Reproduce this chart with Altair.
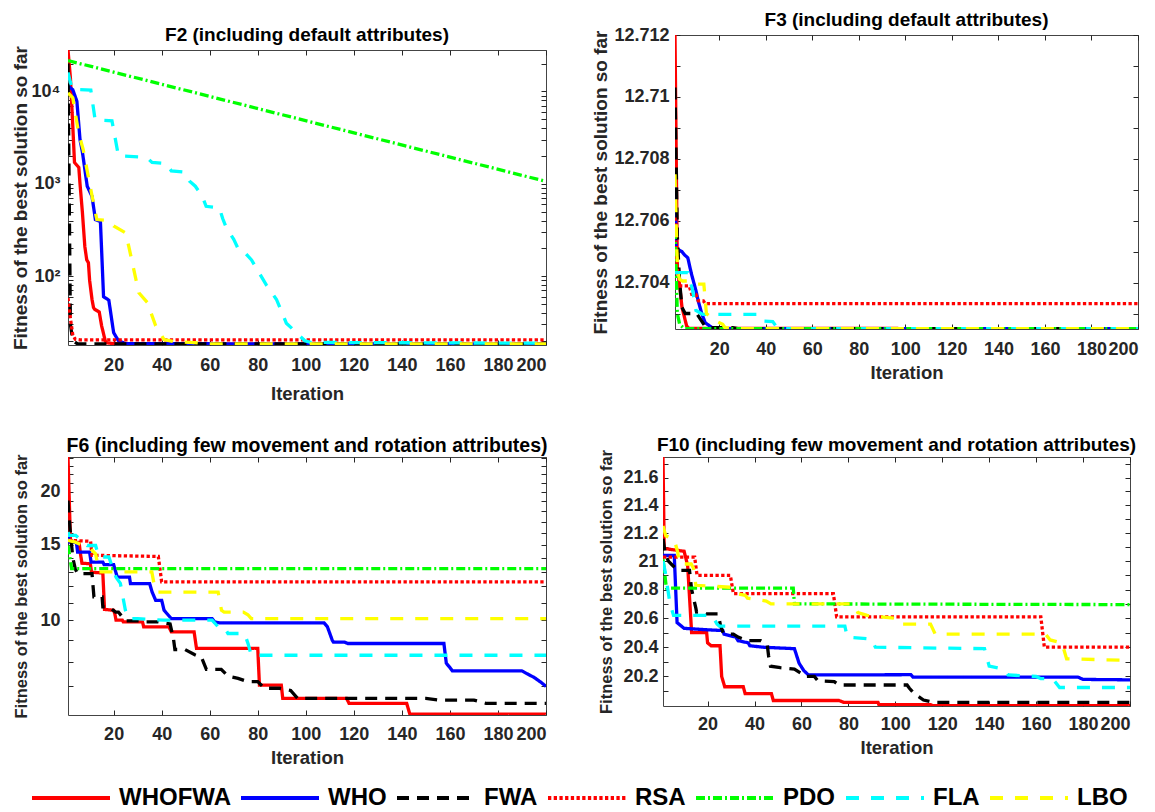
import altair as alt
import pandas as pd

ALGOS = ["WHOFWA", "WHO", "FWA", "RSA", "PDO", "FLA", "LBO"]
COLORS = ["#ff0000", "#0000ff", "#000000", "#ff0000", "#00ff00", "#00ffff", "#ffff00"]
DASHES = [[1, 0], [1, 0], [12, 8], [3.3, 2.4], [9, 3, 2, 3], [13, 12], [13, 12]]
X_TICKS = [20, 40, 60, 80, 100, 120, 140, 160, 180, 200]

# ---- F2 : best fitness per iteration (log axis) ----
F2_WHOFWA = [(1, 28000), (2, 14000), (3, 4200), (3.7, 1700), (5.5, 1500), (6, 1000), (7, 490),
             (8, 210), (8.8, 150), (9.5, 140), (10, 90), (11, 56), (11.6, 46), (12, 44), (14, 41),
             (15, 29), (16.5, 20), (17, 19), (20, 18.6), (30, 18.4), (200, 18.4)]
F2_WHO = [(1, 11500), (3, 10400), (4.7, 7800), (6, 3000), (7, 2200), (9, 940), (11, 730),
          (12.4, 410), (14.5, 390), (15.8, 60), (18, 55), (20, 24.5), (22, 20), (25, 18.6), (200, 18.4)]
F2_FWA = [(1, 20000), (2, 30), (3, 20), (5, 18.5), (200, 18.4)]
F2_RSA = [(1, 58), (2, 35), (3, 23), (4, 20.8), (6, 20.5), (200, 20.5)]
F2_PDO = [(1, 21500), (200, 1060)]
F2_FLA = [(1, 16000), (2, 12500), (3, 10500), (10.5, 10300), (12.3, 4900), (19.3, 4800), (22, 2000),
          (31.6, 1950), (34, 1900), (36, 1700), (42, 1650), (44, 1380), (49.3, 1340), (51.5, 1070),
          (54, 940), (56.9, 730), (58.5, 570), (64, 550), (65.4, 420), (67, 330), (70, 250),
          (72.4, 185), (75, 175), (77.4, 150), (80, 115), (83.6, 80), (87.8, 56), (91.9, 31),
          (94.7, 26.5), (99.6, 20), (102, 19.2), (200, 18.8)]
F2_LBO = [(1, 9600), (3, 8500), (5.4, 3560), (7.3, 2350), (10.2, 940), (13, 410), (17.9, 400),
          (20, 350), (24.9, 295), (26.3, 210), (30.5, 66), (34, 52), (37.5, 29), (41, 20.6),
          (45, 19.6), (55, 19.0), (60, 18.5), (200, 18.5)]

# ---- F3 ----
F3_WHOFWA = [(1, 12.712), (2, 12.7045), (3, 12.7039), (4, 12.7032), (5, 12.7029), (6, 12.7026),
             (7, 12.70252), (200, 12.70251)]
F3_WHO = [(1, 12.7076), (1.5, 12.7051), (4, 12.7050), (5, 12.7049), (6.5, 12.7048), (8, 12.7043),
          (10, 12.70374), (11, 12.7034), (12.5, 12.7030), (14, 12.7027), (15.7, 12.70261),
          (17, 12.70254), (19, 12.70251), (200, 12.70251)]
F3_FWA = [(1, 12.7103), (2, 12.7055), (3, 12.7040), (4, 12.7032), (5.4, 12.7030), (10.3, 12.7030),
          (12.4, 12.70276), (13.8, 12.7026), (16.2, 12.70254), (25.8, 12.70254), (28, 12.70251),
          (200, 12.70251)]
F3_RSA = [(1, 12.7061), (2, 12.7045), (2.8, 12.70389), (7.1, 12.70389), (8.2, 12.70362),
          (10, 12.70362), (11, 12.70341), (13.2, 12.70341), (14, 12.70332), (200, 12.70332)]
F3_PDO = [(1, 12.7057), (2, 12.7030), (3, 12.70265), (5, 12.70251), (200, 12.70251)]
F3_FLA = [(1, 12.70432), (6.5, 12.70432), (8.6, 12.70374), (10, 12.7031), (12.9, 12.70297),
          (36, 12.70297), (37.5, 12.70276), (43, 12.70274), (45, 12.70253), (50, 12.70251),
          (200, 12.70251)]
F3_LBO = [(1, 12.7075), (1.8, 12.7050), (2.3, 12.7043), (3, 12.7041), (4.3, 12.70405),
          (7.2, 12.70405), (10, 12.70395), (13.4, 12.70395), (14.5, 12.7030), (18.6, 12.70276),
          (21.5, 12.70265), (22.5, 12.70254), (30, 12.70251), (200, 12.70251)]

# ---- F6 ----
F6_WHOFWA = [(1, 24.1), (2, 15.5), (2.8, 15.25), (5.6, 15.2), (6.2, 14.3), (6.8, 13.6), (10.3, 13.55),
             (10.8, 12.95), (15.5, 12.9), (16.2, 10.6), (20, 10.55), (20.5, 10.35), (21, 10.0),
             (23.6, 10.0), (24, 9.91), (32, 9.91), (32.5, 9.65), (43, 9.65), (44, 9.39), (53.5, 9.39),
             (54.5, 8.59), (80, 8.59), (80.7, 7.05), (89.8, 7.05), (90.4, 6.56), (117, 6.56),
             (118, 6.39), (142, 6.39), (143.3, 6.03), (200, 6.03)]
F6_WHO = [(1, 15.8), (1.7, 15.23), (4.5, 15.2), (5, 14.44), (10, 14.44), (10.6, 13.68), (15.5, 13.68),
          (16, 13.5), (20, 13.5), (21, 12.9), (21.5, 12.62), (26.6, 12.62), (27, 12.18), (35, 12.18),
          (36, 11.65), (37.5, 11.13), (40, 11.13), (41, 10.55), (44, 10.09), (61, 10.09), (62, 9.91),
          (64, 9.86), (107.6, 9.86), (109, 9.65), (111, 8.98), (111.5, 8.89), (116, 8.89),
          (117.5, 8.82), (157.5, 8.82), (158.5, 7.93), (160, 7.75), (161, 7.61), (190, 7.61),
          (192, 7.5), (195, 7.35), (198, 7.15), (200, 7.0)]
F6_FWA = [(1, 19.06), (1.8, 16.5), (3, 14.0), (4, 13.2), (5, 12.85), (11, 12.85), (11.8, 11.34),
          (15.2, 11.34), (15.5, 10.74), (18, 10.74), (20.8, 10.45), (22, 10.45), (24.9, 9.96),
          (30.4, 9.96), (33, 9.91), (38.6, 9.91), (43.5, 9.8), (44.9, 9.06), (45.5, 8.54),
          (49.7, 8.54), (53.8, 8.3), (56.6, 8.18), (58.6, 7.67), (64.8, 7.67), (67.6, 7.4),
          (71.8, 7.31), (75.9, 7.18), (80, 7.18), (82.8, 6.93), (89, 6.93), (93.7, 6.85),
          (96.6, 6.56), (150, 6.56), (156, 6.50), (170, 6.50), (175, 6.39), (200, 6.39)]
F6_RSA = [(1, 15.38), (10.4, 15.3), (11, 14.19), (38.6, 14.1), (40, 12.29), (200, 12.29)]
F6_PDO = [(1, 14.96), (2.5, 13.21), (200, 13.21)]
F6_FLA = [(1, 16.07), (1.5, 15.8), (4.2, 15.8), (9, 14.96), (12.5, 14.96), (13.8, 14.06), (18, 14.06),
          (21, 12.6), (22.8, 12.2), (24.9, 10.55), (26, 10.09), (30, 10.09), (41, 10.0), (61, 10.0),
          (63.5, 9.65), (66, 9.65), (67.6, 9.31), (74.5, 9.31), (76, 8.8), (77.3, 8.28), (200, 8.28)]
F6_LBO = [(1, 15.38), (4, 15.23), (10.4, 14.7), (12.5, 14.3), (14, 12.97), (35.9, 12.97),
          (37.3, 11.75), (38, 11.64), (63.5, 11.64), (64.9, 10.55), (66, 10.45), (74, 10.45),
          (75.9, 10.3), (77.3, 10.09), (200, 10.09)]

# ---- F10 ----
F10_WHOFWA = [(1, 21.75), (1.5, 21.09), (10, 21.07), (11.5, 20.97), (13.2, 20.50), (19.6, 20.50),
              (20, 20.43), (21.5, 20.41), (25.3, 20.41), (26, 20.2), (27.3, 20.13), (35.2, 20.13),
              (36, 20.084), (47.2, 20.084), (48, 20.037), (76, 20.037), (78, 20.025), (92.6, 20.025),
              (93, 20.009), (115, 20.009), (116, 20.002), (200, 20.002)]
F10_WHO = [(1, 21.04), (5.8, 21.04), (7, 20.57), (10, 20.53), (20, 20.52), (26.5, 20.515), (27, 20.49),
           (32, 20.47), (33, 20.445), (37.3, 20.43), (38, 20.41), (43.7, 20.40), (57, 20.39),
           (59, 20.29), (61, 20.24), (63, 20.21), (106.6, 20.212), (107.5, 20.196), (177.8, 20.196),
           (180, 20.18), (200, 20.177)]
F10_FWA = [(1, 21.16), (2, 21.05), (3.3, 21.0), (4.8, 20.975), (7.4, 20.935), (12.3, 20.935),
           (13.2, 20.8), (15, 20.67), (15.3, 20.643), (18.1, 20.643), (19.5, 20.63), (24.5, 20.63),
           (25.5, 20.55), (26.6, 20.50), (28.8, 20.49), (31, 20.49), (33, 20.47), (37, 20.445),
           (42.6, 20.445), (45.4, 20.42), (46, 20.34), (46.8, 20.27), (51, 20.26), (57, 20.25),
           (60, 20.22), (61.3, 20.20), (65.5, 20.20), (67, 20.17), (74, 20.165), (76, 20.142),
           (105, 20.142), (106, 20.12), (108, 20.084), (112, 20.04), (116, 20.025), (200, 20.025)]
F10_RSA = [(1, 21.028), (14.5, 21.028), (15.5, 20.90), (29.7, 20.90), (31, 20.771), (73.6, 20.771),
           (75, 20.61), (162, 20.61), (163.5, 20.40), (200, 20.40)]
F10_PDO = [(1, 21.016), (2.3, 20.83), (2.5, 20.81), (56.5, 20.81), (57, 20.70), (200, 20.695)]
F10_FLA = [(1, 21.0), (2, 20.92), (2.6, 20.85), (4, 20.7), (5.5, 20.62), (22, 20.62), (24, 20.56),
           (25, 20.545), (78.5, 20.545), (79.5, 20.47), (89.8, 20.456), (91.5, 20.40), (138, 20.39),
           (140, 20.27), (146, 20.25), (148, 20.21), (160, 20.20), (162, 20.185), (167, 20.185),
           (170, 20.125), (200, 20.125)]
F10_LBO = [(1, 21.25), (2.2, 21.18), (5.8, 21.156), (7.3, 21.06), (8, 20.98), (13, 20.98), (14, 20.95),
           (15, 20.83), (31, 20.815), (33, 20.77), (36, 20.76), (37, 20.74), (45, 20.72), (47, 20.70),
           (82, 20.70), (84, 20.64), (88, 20.62), (100, 20.60), (102, 20.56), (115, 20.56),
           (117, 20.49), (164, 20.49), (166, 20.45), (171, 20.43), (173, 20.32), (200, 20.31)]

# ---- y tick positions and labels ----
F2_TICKS = [20, 30, 40, 50, 60, 70, 80, 90, 100, 200, 300, 400, 500, 600, 700, 800, 900,
            1000, 2000, 3000, 4000, 5000, 6000, 7000, 8000, 9000, 10000, 20000]
F3_TICKS = [12.703, 12.704, 12.705, 12.706, 12.707, 12.708, 12.709, 12.71, 12.711, 12.712]
F3_LABELS = [12.704, 12.706, 12.708, 12.71, 12.712]
F6_TICKS = [7, 8, 9, 10, 11, 12, 13, 14, 15, 16, 17, 18, 19, 20, 21, 22, 23, 24]
F6_LABELS = [10, 15, 20]
F10_TICKS = [20.1, 20.2, 20.3, 20.4, 20.5, 20.6, 20.7, 20.8, 20.9, 21.0, 21.1, 21.2, 21.3,
             21.4, 21.5, 21.6, 21.7]
F10_LABELS = [20.2, 20.4, 20.6, 20.8, 21.0, 21.2, 21.4, 21.6]

FONT = "Liberation Sans"
INK = "#262626"
TICK = 5
ONE_ROW = pd.DataFrame({"s": [0]})


def frame(series):
    rows = [{"algo": a, "it": it, "v": v} for a, pts in zip(ALGOS, series) for it, v in pts]
    return pd.DataFrame(rows)


def listed(values):
    return ("indexof([" + ",".join(repr(v) for v in values) +
            "], datum.value) >= 0 ? format(datum.value, '~g') : ''")


F2_EXPR = "datum.value == 100 ? '10²' : datum.value == 1000 ? '10³' : datum.value == 10000 ? '10⁴' : ''"

LEGEND = alt.Legend(
    orient="none", legendX=-38, legendY=748, direction="horizontal", columns=7,
    title=None, symbolType="stroke", symbolSize=6084, symbolStrokeWidth=4,
    labelFont=FONT, labelFontSize=24, labelFontWeight="bold", labelColor="black",
    labelOffset=7, columnPadding=2, labelLimit=300,
)


def gap(h):
    """Empty cell that only holds vertical room in the grid."""
    return alt.Chart(ONE_ROW).mark_rule(strokeOpacity=0).encode(
        x=alt.value(0), y=alt.value(0), y2=alt.value(h)
    ).properties(width=1, height=h, view=alt.ViewBackground(strokeOpacity=0))


def panel(series, title, domain, ticks, label_expr, width, height, reach_left, reach_bottom=0,
          y_title_size=19, y_title_pad=5, lab_size=18, x_title_size=18.5, title_size=19,
          title_offset=3, title_line=17, y_label_pad=8, x_label_pad=14, x_title_pad=6):
    df = frame(series)
    xs = alt.Scale(domain=[1, 200], nice=False, zero=False)
    ys = alt.Scale(type="log", domain=domain, nice=False)
    common = dict(tickSize=TICK, offset=-TICK, domain=False, grid=False, tickColor=INK, tickWidth=1)
    labels = dict(labelFont=FONT, labelFontSize=lab_size, labelFontWeight="bold", labelColor=INK,
                  labelOverlap=False, titleFont=FONT, titleFontWeight="bold", titleColor=INK)
    x_axis = alt.Axis(orient="bottom", values=X_TICKS, title="Iteration", titleFontSize=x_title_size,
                      labelPadding=x_label_pad, titlePadding=x_title_pad, **labels, **common)
    y_axis = alt.Axis(orient="left", values=ticks, labelExpr=label_expr,
                      title="Fitness of the best solution so far", titleFontSize=y_title_size,
                      labelPadding=y_label_pad, titlePadding=y_title_pad, **labels, **common)
    top_axis = alt.Axis(orient="top", values=X_TICKS, labels=False, title=None, **common)
    right_axis = alt.Axis(orient="right", values=ticks, labels=False, title=None, **common)

    base = alt.Chart(df)
    lines = base.mark_line(clip=True, strokeWidth=3.3).encode(
        x=alt.X("it:Q", scale=xs, axis=x_axis),
        y=alt.Y("v:Q", scale=ys, axis=y_axis),
        color=alt.Color("algo:N", scale=alt.Scale(domain=ALGOS, range=COLORS), legend=LEGEND),
        strokeDash=alt.StrokeDash("algo:N", scale=alt.Scale(domain=ALGOS, range=DASHES), legend=LEGEND),
    )
    mirror = base.mark_line(clip=True, opacity=0).encode(
        x=alt.X("it:Q", scale=xs, axis=top_axis),
        y=alt.Y("v:Q", scale=ys, axis=right_axis),
        detail="algo:N",
    )
    # invisible anchor fixing how far the panel reaches to the left and below its frame
    anchor = alt.Chart(ONE_ROW).mark_rule(strokeOpacity=0, strokeWidth=1).encode(
        x=alt.value(-reach_left + 0.5), x2=alt.value(-reach_left + 1.5),
        y=alt.value(height + reach_bottom - 0.5)
    )
    return alt.layer(lines, mirror, anchor).resolve_axis(x="independent", y="independent").properties(
        width=width, height=height,
        title=alt.TitleParams(text=title, font=FONT, fontSize=title_size, fontWeight="bold",
                              color="black", offset=title_offset, anchor="middle",
                              lineHeight=title_line),
    )


p2 = panel([F2_WHOFWA, F2_WHO, F2_FWA, F2_RSA, F2_PDO, F2_FLA, F2_LBO],
           ["", "F2 (including default attributes)"], [18, 28000], F2_TICKS, F2_EXPR, 478, 295,
           reach_left=57, y_title_pad=1, title_offset=0, title_line=15,
           x_label_pad=11, x_title_pad=10)
p3 = panel([F3_WHOFWA, F3_WHO, F3_FWA, F3_RSA, F3_PDO, F3_FLA, F3_LBO],
           "F3 (including default attributes)", [12.7025, 12.712], F3_TICKS, listed(F3_LABELS),
           463, 294, reach_left=102, y_title_pad=3, y_label_pad=6, title_offset=-4,
           x_label_pad=11, x_title_pad=5)
p6 = panel([F6_WHOFWA, F6_WHO, F6_FWA, F6_RSA, F6_PDO, F6_FLA, F6_LBO],
           "F6 (including few movement and rotation attributes)", [6.0, 24.1], F6_TICKS,
           listed(F6_LABELS), 478, 258, reach_left=57, y_title_size=16.5,
           y_title_pad=10, title_size=19.5, title_offset=-8, x_label_pad=10, x_title_pad=5)
p10 = panel([F10_WHOFWA, F10_WHO, F10_FWA, F10_RSA, F10_PDO, F10_FLA, F10_LBO],
            "F10 (including few movement and rotation attributes)", [20.0, 21.75], F10_TICKS,
            listed(F10_LABELS), 467, 249, reach_left=88, y_title_size=16.5,
            y_title_pad=8, y_label_pad=5, title_offset=-6, x_label_pad=9, x_title_pad=5)

# upper pair: the spacer row lets F2 and F3 sit at different heights
upper = alt.concat(gap(1), gap(1), p2, p3, columns=2, align="none",
                   spacing={"row": 0, "column": 26})
lower = alt.hconcat(p6, p10, spacing=26)

chart = alt.vconcat(upper, lower, spacing=32).properties(
    padding={"left": 10, "top": 9, "right": 0, "bottom": 0}
).configure_view(stroke="#444444", strokeWidth=1)

chart.save("out.html", embed_options={"renderer": "svg", "actions": False})
